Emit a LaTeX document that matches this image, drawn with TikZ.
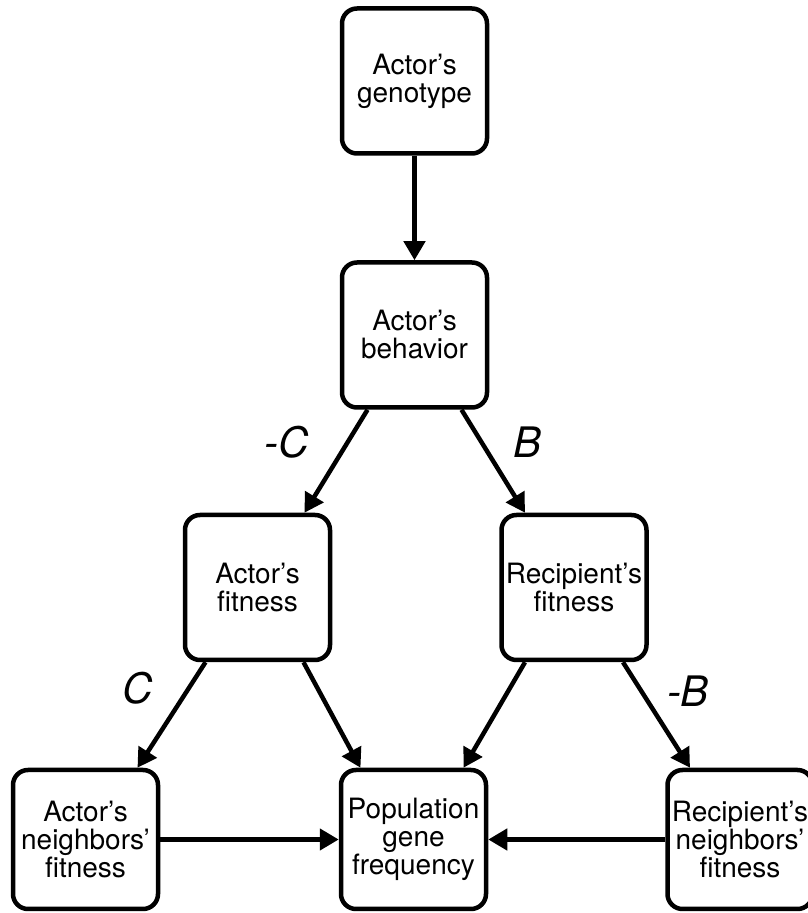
\documentclass[tikz,border=0pt]{standalone}
\usepackage{fontspec}
\setmainfont{TeX Gyre Heros}
\usetikzlibrary{arrows.meta}
\begin{document}
\begin{tikzpicture}[x=1pt,y=1pt,
  box/.style={draw=black, line width=4.5pt, rounded corners=15pt, fill=white,
    minimum width=145pt, minimum height=145pt, align=center, inner sep=2pt,
    font=\fontsize{28}{28}\selectfont},
  lowbox/.style={box, minimum height=139pt},
  arr/.style={line width=4.5pt, -{Triangle[length=19pt,width=21pt]}},
  lab/.style={font=\fontsize{42}{42}\selectfont\itshape}]
\useasboundingbox (0,0) rectangle (808,913);
\node[box] (geno) at (414.5,832) {Actor’s\\genotype};
\node[box] (beh) at (414.5,578) {Actor’s\\behavior};
\node[box] (af) at (257.5,325.5) {Actor’s\\fitness};
\node[box] (rf) at (574,325.5) {Recipient’s\\fitness};
\node[lowbox] (an) at (85.5,73.5) {Actor’s\\neighbors’\\fitness};
\node[lowbox] (pop) at (413.5,73.5) {Population\\gene\\frequency};
\node[lowbox] (rn) at (740,73.5) {Recipient’s\\neighbors’\\fitness};
\draw[arr] (geno.south) -- (beh.north);
\draw[arr] ([xshift=-47pt]beh.south) -- ([xshift=47pt]af.north);
\draw[arr] ([xshift=47pt]beh.south) -- ([xshift=-49pt]rf.north);
\draw[arr] ([xshift=-52pt]af.south) -- ([xshift=52pt]an.north);
\draw[arr] ([xshift=46pt]af.south) -- ([xshift=-53pt]pop.north);
\draw[arr] ([xshift=-49pt]rf.south) -- ([xshift=50pt]pop.north);
\draw[arr] ([xshift=49pt]rf.south) -- ([xshift=-50pt]rn.north);
\draw[arr] (an.east) -- (pop.west);
\draw[arr] (rn.west) -- (pop.east);
\node[lab] (lc1) at (287,471) {-C};
\node[lab] (lb1) at (528,471) {B};
\node[lab] (lc2) at (138,225) {C};
\node[lab] (lb2) at (688,222) {-B};
\end{tikzpicture}
\end{document}
